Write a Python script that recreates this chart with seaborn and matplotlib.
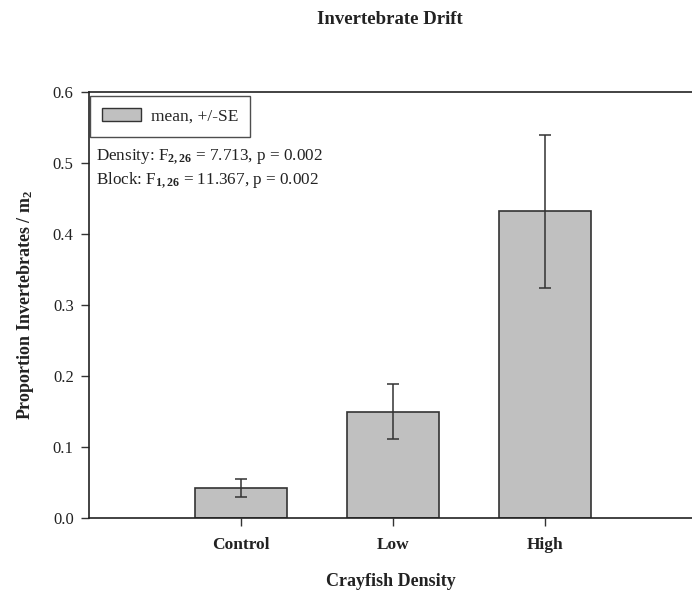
import matplotlib
matplotlib.use("Agg")
import matplotlib.pyplot as plt
import seaborn as sns
import pandas as pd
from matplotlib.patches import Patch

categories = ["Control", "Low", "High"]
means = [0.042, 0.150, 0.432]
se = [0.0125, 0.039, 0.108]
yticks = [0.0, 0.1, 0.2, 0.3, 0.4, 0.5, 0.6]

sns.set_theme(style="white")
plt.rcParams['font.family'] = ['Liberation Serif', 'DejaVu Serif']
plt.rcParams['mathtext.fontset'] = 'custom'
plt.rcParams['mathtext.rm'] = 'Liberation Serif'
plt.rcParams['mathtext.it'] = 'Liberation Serif:italic'
plt.rcParams['mathtext.bf'] = 'Liberation Serif:bold'

df = pd.DataFrame({"cat": categories, "mean": means})

fig = plt.figure(figsize=(6.92, 5.94), dpi=100)
ax = fig.add_axes([89/692, 1 - 518/594, 1 - 89/692, (518 - 92)/594])

sns.barplot(data=df, x="cat", y="mean", order=categories, color="#c0c0c0",
            saturation=1, width=0.6, edgecolor="#333333", linewidth=1.2,
            errorbar=None, ax=ax)
ax.errorbar(x=list(range(len(categories))), y=means, yerr=se, fmt="none",
            ecolor="#333333", elinewidth=1.1, capsize=4.5, capthick=1.1)

ax.set_xlim(-1, 2.967)
ax.set_ylim(0, 0.6)
ax.set_yticks(yticks)
ax.set_yticklabels([f"{v:.1f}" for v in yticks], fontsize=12)
ax.set_xticks(range(len(categories)))
ax.set_xticklabels(categories, fontsize=12.5, fontweight="bold")

for s in ["left", "bottom", "top"]:
    ax.spines[s].set_visible(True)
    ax.spines[s].set_color("#222222")
    ax.spines[s].set_linewidth(1.2)
ax.spines["right"].set_visible(False)
ax.tick_params(axis="y", direction="out", length=6, width=1, color="#333333",
               left=True, pad=5, labelcolor="#222222")
ax.tick_params(axis="x", direction="out", length=6, width=1, color="#333333",
               bottom=True, pad=8, labelcolor="#222222")

ax.set_xlabel("Crayfish Density", fontsize=13, fontweight="bold", labelpad=14, color="#222222")
ax.set_ylabel(r"Proportion Invertebrates / m$_{\mathbf{2}}$", fontsize=13,
              fontweight="bold", labelpad=12, color="#222222")
fig.text(390/692, 1 - 20/594, "Invertebrate Drift", fontsize=13.5, fontweight="bold",
         ha="center", va="center", color="#222222")

handle = Patch(facecolor="#c0c0c0", edgecolor="#333333", linewidth=1.0)
leg = ax.legend([handle], ["mean, +/-SE"], loc="upper left",
                bbox_to_anchor=(0.002, 0.99), borderaxespad=0, fontsize=12.5,
                frameon=True, fancybox=False, handlelength=2.2, handleheight=0.7,
                borderpad=0.7, handletextpad=0.6)
leg.get_frame().set_edgecolor("#222222")
leg.get_frame().set_linewidth(1.0)

fig.text(96/692, 1 - 157/594, r"Density: F$_{\mathbf{2,26}}$ = 7.713, p = 0.002",
         fontsize=12.3, va="center", ha="left", color="#222222")
fig.text(96/692, 1 - 180/594, r"Block: F$_{\mathbf{1,26}}$ = 11.367, p = 0.002",
         fontsize=12.3, va="center", ha="left", color="#222222")

fig.savefig("out.png", dpi=100)
